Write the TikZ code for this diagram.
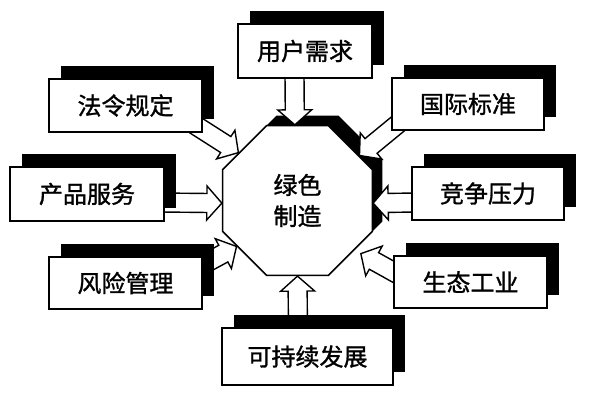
\documentclass[tikz,border=0pt]{standalone}
\usepackage{fontspec}
\newfontfamily\cjk[FakeBold=1.2]{Noto Sans CJK SC}
\usetikzlibrary{calc,shapes.geometric,shadows}
\pgfdeclarelayer{bottom}
\pgfdeclarelayer{middle}
\pgfsetlayers{bottom,middle,main}

\tikzset{
  factor/.style={draw, line width=1.6pt, fill=white, minimum width=153pt, minimum height=53pt,
    inner sep=0pt, font=\cjk\fontsize{24}{28}\selectfont,
    drop shadow={shadow xshift=12pt, shadow yshift=13pt, fill=black, opacity=1}},
  core/.style={draw, line width=1.6pt, fill=white, regular polygon, regular polygon sides=8,
    minimum size=162pt, inner sep=0pt, align=center, font=\cjk\fontsize{24}{33}\selectfont,
    drop shadow={shadow xshift=10pt, shadow yshift=10pt, fill=black, opacity=1}},
  fatline/.style={draw, line width=1.4pt, fill=white, line join=miter}
}

% hollow block arrow: [gap at tip]{start}{tip}
\newcommand\fatarrow[3][0pt]{%
  \coordinate (fa-s) at (#2);
  \coordinate (fa-t) at ($(#3)!#1!(fa-s)$);
  \coordinate (fa-h) at ($(fa-t)!15pt!(fa-s)$);
  \draw[fatline] ($(fa-s)!9.5pt!90:(fa-t)$) -- ($(fa-h)!9.5pt!-90:(fa-s)$)
    -- ($(fa-h)!17pt!-90:(fa-s)$) -- (fa-t) -- ($(fa-h)!17pt!90:(fa-s)$)
    -- ($(fa-h)!9.5pt!90:(fa-s)$) -- ($(fa-s)!9.5pt!-90:(fa-t)$) -- cycle;
}

\begin{document}
\begin{tikzpicture}[x=1pt,y=1pt]
    \path[use as bounding box] (0,0) rectangle (589,400);

    % the eight boxes with their shadows
    \node[factor, minimum width=134pt, minimum height=54pt] (demand) at (305,349) {用户需求};
    \node[factor] (law) at (125.5,294.5) {法令规定};
    \node[factor, minimum width=154pt, minimum height=54pt] (product) at (87,206) {产品服务};
    \node[factor, minimum height=52pt] (risk) at (125.5,117) {风险管理};
    \node[factor, minimum width=171pt, minimum height=57pt] (sustain) at (307.5,43.5) {可持续发展};
    \node[factor, minimum width=152pt, minimum height=52pt] (standard) at (468,296) {国际标准};
    \node[factor, minimum width=152pt] (compete) at (488,206.5) {竞争压力};
    \node[factor, minimum height=52pt] (ecology) at (470.5,118) {生态工业};

    % the centre octagon, under everything
    \begin{pgfonlayer}{bottom}
        \node[core] (core) at (297.5,199.5) {绿色\\[-2pt]制造};
    \end{pgfonlayer}

    % arrows into the octagon, under the boxes
    \begin{pgfonlayer}{middle}
        \fatarrow{$(demand.south)+(-10.5,4)$}{core.92}
        \fatarrow{$(law.south east)+(-8,8)$}{core.141}
        \fatarrow{$(product.east)+(-4,-8.5)$}{core.182}
        \fatarrow{$(risk.east)+(-6,15)$}{core.217}
        \fatarrow{$(sustain.north)+(-9.5,-4)$}{core.270}
        \fatarrow{$(standard.south west)+(8,8)$}{core.36}
        \fatarrow{$(compete.west)+(4,-9)$}{core.358}
        \fatarrow[7pt]{$(ecology.west)+(6,7)$}{core.319}
    \end{pgfonlayer}
\end{tikzpicture}
\end{document}
